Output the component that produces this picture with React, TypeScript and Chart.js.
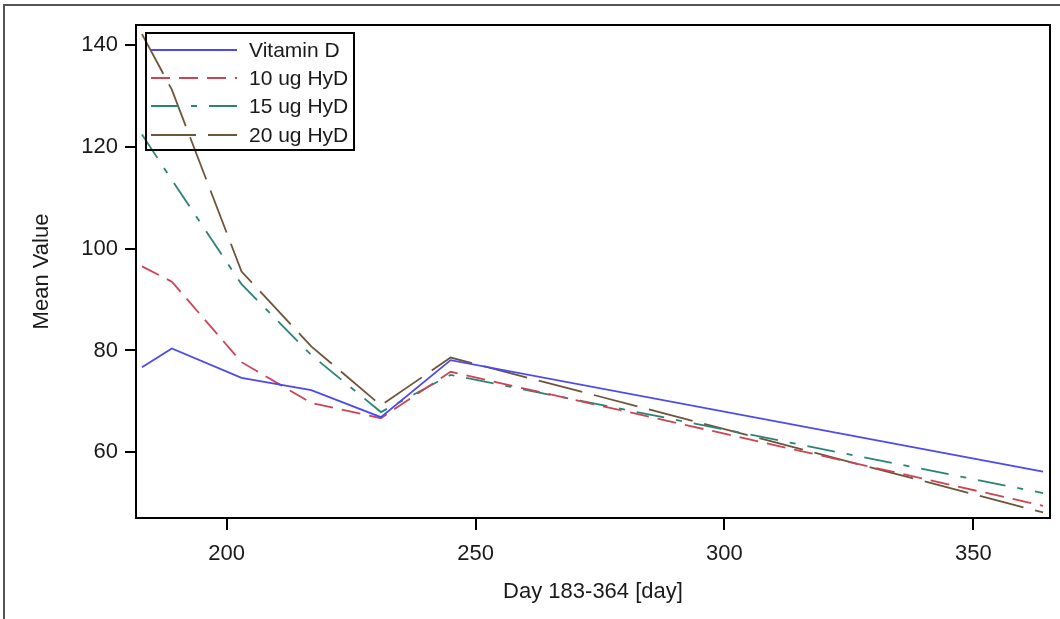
import React, { useEffect, useRef } from "react";
import { Chart, registerables } from "chart.js";

Chart.register(...registerables);

const days = [183, 189, 203, 217, 231, 245, 364];
const vitaminD = [76.7, 80.4, 74.6, 72.2, 66.9, 78.1, 56.2];
const hyd10 = [96.5, 93.5, 77.7, 69.7, 66.7, 75.8, 49.5];
const hyd15 = [122.4, 113.5, 93.0, 79.1, 67.9, 75.2, 52.0];
const hyd20 = [142.1, 131.2, 95.5, 80.8, 69.2, 78.6, 48.2];

const seriesLabels = ["Vitamin D", "10 ug HyD", "15 ug HyD", "20 ug HyD"];
const xTicks = [200, 250, 300, 350];
const yTicks = [60, 80, 100, 120, 140];

const FONT = "'Liberation Sans', Arial, sans-serif";
const TEXT = "#1a1a1a";

const colors = ["#4a4af0", "#cc4455", "#2a8474", "#6e5438"];
const dashes: number[][] = [[], [19, 9], [28, 12, 6, 12], [45, 12]];

export default function App() {
  const ref = useRef<HTMLCanvasElement | null>(null);

  useEffect(() => {
    const canvas = ref.current;
    if (!canvas) return;
    const all = [vitaminD, hyd10, hyd15, hyd20];

    const framePlugin = {
      id: "frame",
      beforeDraw(chart: any) {
        const ctx = chart.ctx;
        ctx.save();
        ctx.fillStyle = "#ffffff";
        ctx.fillRect(0, 0, chart.width, chart.height);
        ctx.strokeStyle = "#555";
        ctx.lineWidth = 2;
        ctx.beginPath();
        ctx.moveTo(4, chart.height);
        ctx.lineTo(4, 5);
        ctx.lineTo(chart.width, 5);
        ctx.stroke();
        ctx.restore();
      },
      afterDraw(chart: any) {
        const ctx = chart.ctx;
        const a = chart.chartArea;
        ctx.save();
        ctx.strokeStyle = "#000";
        ctx.lineWidth = 2;
        ctx.strokeRect(a.left, a.top, a.right - a.left, a.bottom - a.top);
        // legend
        const bx = 146, by = 33, bw = 208, bh = 117;
        ctx.strokeRect(bx, by, bw, bh);
        const rows = [50, 78, 106, 135];
        chart.data.datasets.forEach((ds: any, i: number) => {
          ctx.save();
          ctx.strokeStyle = ds.borderColor;
          ctx.lineWidth = 2;
          ctx.setLineDash(ds.borderDash || []);
          ctx.beginPath();
          ctx.moveTo(151, rows[i]);
          ctx.lineTo(237, rows[i]);
          ctx.stroke();
          ctx.restore();
          ctx.fillStyle = TEXT;
          ctx.font = `21px ${FONT}`;
          ctx.textAlign = "left";
          ctx.textBaseline = "middle";
          ctx.fillText(ds.label, 249, rows[i] + 1);
        });
        ctx.restore();
      },
    };

    const chart = new Chart(canvas, {
      type: "line",
      data: {
        datasets: all.map((vals, i) => ({
          label: seriesLabels[i],
          data: days.map((d, j) => ({ x: d, y: vals[j] })),
          borderColor: colors[i],
          backgroundColor: colors[i],
          borderWidth: 1.8,
          borderDash: dashes[i],
          pointRadius: 0,
          tension: 0,
          fill: false,
        })),
      },
      options: {
        animation: false,
        responsive: false,
        maintainAspectRatio: false,
        layout: { padding: { top: 25, right: 10, left: 0, bottom: 0 } },
        plugins: { legend: { display: false }, tooltip: { enabled: false } },
        scales: {
          x: {
            type: "linear",
            min: 181.8,
            max: 365.4,
            afterFit(scale: any) {
              scale.height = 101;
            },
            afterBuildTicks(scale: any) {
              scale.ticks = xTicks.map((v) => ({ value: v }));
            },
            grid: {
              display: true,
              drawOnChartArea: false,
              drawTicks: true,
              tickLength: 12,
              color: "#000",
              lineWidth: 2,
            },
            border: { display: true, color: "#000", width: 2 },
            ticks: {
              color: TEXT,
              padding: 11,
              maxRotation: 0,
              font: { family: FONT, size: 22 },
            },
            title: {
              display: true,
              text: "Day 183-364 [day]",
              color: TEXT,
              font: { family: FONT, size: 22 },
              padding: { top: 0, bottom: 14 },
            },
          },
          y: {
            type: "linear",
            min: 47.1,
            max: 143.9,
            afterFit(scale: any) {
              scale.width = 136;
            },
            afterBuildTicks(scale: any) {
              scale.ticks = yTicks.map((v) => ({ value: v }));
            },
            grid: {
              display: true,
              drawOnChartArea: false,
              drawTicks: true,
              tickLength: 11,
              color: "#000",
              lineWidth: 2,
            },
            border: { display: true, color: "#000", width: 2 },
            ticks: {
              color: TEXT,
              padding: 7,
              font: { family: FONT, size: 22 },
            },
            title: {
              display: true,
              text: "Mean Value",
              color: TEXT,
              font: { family: FONT, size: 22 },
              padding: { top: 29, bottom: 0 },
            },
          },
        },
      },
      plugins: [framePlugin],
    });
    return () => chart.destroy();
  }, []);

  return (
    <div style={{ position: "fixed", left: 0, top: 0, width: 1060, height: 619 }}>
      <canvas ref={ref} width={1060} height={619} style={{ width: 1060, height: 619, display: "block" }} />
    </div>
  );
}
